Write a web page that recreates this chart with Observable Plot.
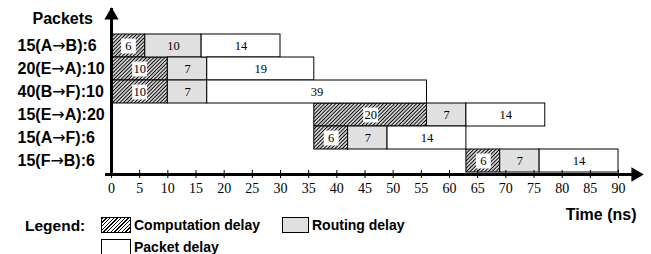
<!DOCTYPE html>
<html><head><meta charset="utf-8">
<script src="https://cdn.jsdelivr.net/npm/d3@7"></script>
<script src="https://cdn.jsdelivr.net/npm/@observablehq/plot@0.6"></script>
<style>
body{margin:0;background:#fff;}
#legend{position:relative;height:37px;margin-top:-7px;font-family:"Liberation Sans",Arial,sans-serif;font-weight:bold;color:#000;}
#legend .t{position:absolute;line-height:18px;white-space:nowrap;}
#legend .sw{position:absolute;box-sizing:border-box;border:1px solid #000;height:16px;}
</style></head><body>
<div id="chart"></div>
<div id="legend"></div>
<script>
const packets = ["15(A→B):6", "20(E→A):10", "40(B→F):10", "15(E→A):20", "15(A→F):6", "15(F→B):6"];
const startTimes = [0, 0, 0, 36, 36, 63];
const computationDelay = [6, 10, 10, 20, 6, 6];
const routingDelay = [10, 7, 7, 7, 7, 7];
const packetDelay = [14, 19, 39, 14, 14, 14];
const xTicks = [0, 5, 10, 15, 20, 25, 30, 35, 40, 45, 50, 55, 60, 65, 70, 75, 80, 85, 90];
const phaseNames = ["Computation delay", "Routing delay", "Packet delay"];

const HATCH = "url(#hatch)";
const GRAY = "#e0e0e0";
const serif = "Liberation Serif, Times New Roman, serif";
const sans = "Liberation Sans, Arial, sans-serif";

const comp = packets.map((p, i) => ({packet: p, x1: startTimes[i], x2: startTimes[i] + computationDelay[i], value: computationDelay[i]}));
const rout = packets.map((p, i) => ({packet: p, x1: comp[i].x2, x2: comp[i].x2 + routingDelay[i], value: routingDelay[i]}));
const pack = packets.map((p, i) => ({packet: p, x1: rout[i].x2, x2: rout[i].x2 + packetDelay[i], value: packetDelay[i]}));
const mid = d => (d.x1 + d.x2) / 2;

const svg = Plot.plot({
  width: 651,
  height: 224,
  marginTop: 8,
  marginBottom: 50,
  marginLeft: 106,
  marginRight: 16,
  style: {background: "white", color: "black", overflow: "visible"},
  x: {domain: [0, 90], range: [111, 618]},
  y: {domain: packets, range: [32, 174], padding: 0},
  marks: [
    Plot.barX(comp, {x1: "x1", x2: "x2", y: "packet", fill: HATCH, stroke: "black", strokeWidth: 1}),
    Plot.barX(rout, {x1: "x1", x2: "x2", y: "packet", fill: GRAY, stroke: "black", strokeWidth: 1}),
    Plot.barX(pack, {x1: "x1", x2: "x2", y: "packet", fill: "white", stroke: "black", strokeWidth: 1}),
    Plot.dot(comp, {x: mid, y: "packet", symbol: "square", r: 8.4, fill: "white", stroke: null}),
    Plot.text([...comp, ...rout, ...pack], {x: mid, y: "packet", text: d => String(d.value), fontFamily: serif, fontSize: 12.5, fill: "black"}),
    Plot.ruleX([0], {strokeWidth: 3, stroke: "black"}),
    Plot.frame({anchor: "bottom", strokeWidth: 3, stroke: "black"}),
    Plot.dot([0], {x: d => d, frameAnchor: "top", symbol: "triangle", r: 5.3, fill: "black", stroke: null, dy: 7}),
    Plot.dot([0], {frameAnchor: "bottom-right", symbol: "triangle", rotate: 90, r: 5.3, fill: "black", stroke: null}),
    Plot.axisX({ticks: xTicks, tickSize: 8, dy: -4, tickFormat: () => "", label: null}),
    Plot.axisX({ticks: xTicks, tickSize: 0, tickPadding: 9, fontFamily: serif, fontSize: 14, label: null, fill: "black"}),
    Plot.axisY({tickSize: 0, tickPadding: 89, textAnchor: "start", fontFamily: sans, fontSize: 16, fontWeight: "bold", label: null, fill: "black"}),
    Plot.text(["Packets"], {frameAnchor: "top-left", text: d => d, textAnchor: "start", lineAnchor: "middle", dx: -74, dy: 10, fontFamily: sans, fontSize: 16, fontWeight: "bold", fill: "black"}),
    Plot.text(["Time (ns)"], {frameAnchor: "bottom-right", text: d => d, textAnchor: "end", lineAnchor: "middle", dx: 1, dy: 40, fontFamily: sans, fontSize: 16, fontWeight: "bold", fill: "black"})
  ]
});

d3.select(svg).insert("defs", ":first-child").html(
  '<pattern id="hatch" patternUnits="userSpaceOnUse" width="2.6" height="2.6" patternTransform="rotate(45)">' +
  '<rect width="2.6" height="2.6" fill="white"/>' +
  '<line x1="1.3" y1="0" x2="1.3" y2="2.6" stroke="black" stroke-width="1.2"/></pattern>'
);

// render the arrow glyph with a font whose arrow is long, like the reference
d3.select(svg).selectAll("text").each(function () {
  const s = this.textContent;
  if (!s.includes("→")) return;
  const parts = s.split("→");
  const el = d3.select(this);
  this.textContent = "";
  parts.forEach((p, i) => {
    if (i > 0) el.append("tspan").attr("font-family", "DejaVu Sans").attr("font-weight", "normal").text("→");
    el.append("tspan").text(p);
  });
});
document.getElementById("chart").appendChild(svg);

const hatchCss = "repeating-linear-gradient(135deg, #000 0px, #000 1px, #fff 1px, #fff 2.6px)";
const legend = d3.select("#legend");
legend.append("div").attr("class", "t").style("left", "25px").style("top", "0px").style("font-size", "15.5px").text("Legend:");
const items = [
  {name: phaseNames[0], bg: hatchCss, left: 101, top: 0, w: 30},
  {name: phaseNames[1], bg: GRAY, left: 282, top: 0, w: 27},
  {name: phaseNames[2], bg: "#fff", left: 101, top: 22, w: 30}
];
items.forEach(it => {
  legend.append("div").attr("class", "sw").style("left", it.left + "px").style("top", it.top + "px").style("width", it.w + "px").style("background", it.bg);
  legend.append("div").attr("class", "t").style("left", (it.left + it.w + 3) + "px").style("top", (it.top - 1) + "px").style("font-size", "14px").text(it.name);
});
</script>
</body></html>
